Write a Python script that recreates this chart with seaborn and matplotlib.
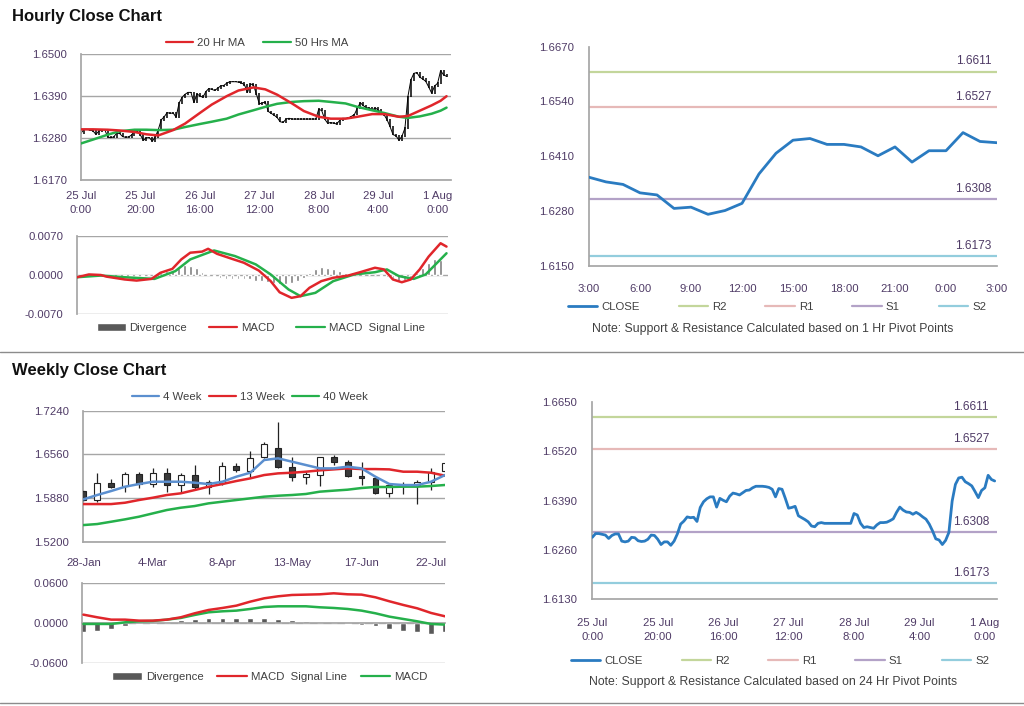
import numpy as np
import pandas as pd
import matplotlib
matplotlib.use("Agg")
import matplotlib.pyplot as plt
import seaborn as sns
from matplotlib.patches import Patch
from matplotlib.lines import Line2D

# ------------------------------------------------------------------ data
hourly_close = [
    1.6293, 1.6303, 1.6303, 1.6301, 1.6299, 1.6290, 1.6298, 1.6302, 1.6302, 1.6283,
    1.6281, 1.6283, 1.6293, 1.6292, 1.6284, 1.6282, 1.6283, 1.6288, 1.6299, 1.6298,
    1.6288, 1.6274, 1.6281, 1.6281, 1.6272, 1.6283, 1.6302, 1.6328, 1.6336, 1.6347,
    1.6345, 1.6346, 1.6335, 1.6372, 1.6387, 1.6395, 1.6400, 1.6400, 1.6373, 1.6396,
    1.6391, 1.6387, 1.6402, 1.6410, 1.6408, 1.6405, 1.6411, 1.6417, 1.6418, 1.6424,
    1.6428, 1.6428, 1.6428, 1.6427, 1.6425, 1.6420, 1.6400, 1.6422, 1.6420, 1.6396,
    1.6370, 1.6372, 1.6375, 1.6350, 1.6345, 1.6340, 1.6334, 1.6323, 1.6321, 1.6330,
    1.6332, 1.6330, 1.6330, 1.6330, 1.6330, 1.6330, 1.6330, 1.6330, 1.6330, 1.6330,
    1.6356, 1.6352, 1.6330, 1.6319, 1.6321, 1.6319, 1.6317, 1.6326, 1.6332, 1.6332,
    1.6333, 1.6337, 1.6342, 1.6359, 1.6373, 1.6365, 1.6360, 1.6359, 1.6354, 1.6359,
    1.6354, 1.6347, 1.6341, 1.6328, 1.6310, 1.6289, 1.6286, 1.6274, 1.6285, 1.6306,
    1.6389, 1.6433, 1.6450, 1.6452, 1.6440, 1.6435, 1.6429, 1.6414, 1.6398, 1.6417,
    1.6424, 1.6457, 1.6446, 1.6442]
hour_ticks = [0, 20, 40, 60, 80, 100, 120]
hour_labels = ["25 Jul\n0:00", "25 Jul\n20:00", "26 Jul\n16:00", "27 Jul\n12:00",
               "28 Jul\n8:00", "29 Jul\n4:00", "1 Aug\n0:00"]

ma_hours = [0, 4, 9, 13, 18, 22, 26, 31, 35, 40, 44, 49, 53, 58, 62, 66, 71, 75, 80,
            84, 89, 93, 98, 102, 107, 110, 114, 118, 121, 123]
ma20 = [1.6303, 1.6303, 1.6302, 1.6300, 1.6296, 1.6290, 1.6287, 1.6301, 1.6318, 1.6346,
        1.6368, 1.6390, 1.6405, 1.6413, 1.6408, 1.6394, 1.6371, 1.6351, 1.6336, 1.6331,
        1.6331, 1.6336, 1.6343, 1.6343, 1.6336, 1.6338, 1.6352, 1.6366, 1.6378, 1.6390]
ma50 = [1.6266, 1.6276, 1.6289, 1.6298, 1.6302, 1.6302, 1.6301, 1.6302, 1.6309, 1.6317,
        1.6323, 1.6331, 1.6342, 1.6353, 1.6362, 1.6370, 1.6375, 1.6377, 1.6378, 1.6375,
        1.6371, 1.6362, 1.6353, 1.6346, 1.6336, 1.6333, 1.6337, 1.6344, 1.6352, 1.6360]

macd_hours = [0, 4, 8, 10, 16, 20, 25, 28, 32, 35, 38, 42, 44, 47, 52, 56, 61, 65, 68,
              72, 75, 78, 82, 86, 91, 95, 100, 103, 106, 109, 112, 115, 118, 122, 124]
macd_h = [-0.0004, 0.0001, 0.0000, -0.0003, -0.0008, -0.0010, -0.0007, 0.0004, 0.0011,
          0.0028, 0.0040, 0.0042, 0.0047, 0.0038, 0.0029, 0.0022, 0.0008, -0.0011, -0.0031,
          -0.0041, -0.0038, -0.0023, -0.0011, -0.0005, -0.0001, 0.0005, 0.0013, 0.0010,
          -0.0008, -0.0013, -0.0008, 0.0010, 0.0033, 0.0057, 0.0051]
signal_hours = [0, 8, 16, 26, 33, 38, 46, 53, 60, 65, 71, 75, 80, 86, 93, 100, 104, 108,
                113, 117, 124]
signal_h = [-0.0004, -0.0001, -0.0004, -0.0007, 0.0007, 0.0028, 0.0044, 0.0034, 0.0019,
            0.0001, -0.0026, -0.0038, -0.0032, -0.0011, 0.0001, 0.0005, 0.0010, -0.0002,
            -0.0007, 0.0001, 0.0039]
div_hours = list(range(0, 124, 2))
div_h = [0.0000, 0.0001, 0.0000, -0.0001, 0.0000, -0.0001, -0.0002, -0.0002, -0.0002,
         -0.0001, -0.0001, -0.0001, 0.0000, 0.0002, 0.0005, 0.0007, 0.0009, 0.0012,
         0.0018, 0.0017, 0.0012, 0.0006, 0.0002, -0.0002, -0.0005, -0.0008, -0.0008,
         -0.0008, -0.0007, -0.0008, -0.0010, -0.0011, -0.0013, -0.0015, -0.0017, -0.0017,
         -0.0015, -0.0011, -0.0005, 0.0003, 0.0011, 0.0014, 0.0013, 0.0010, 0.0007,
         0.0004, 0.0003, 0.0002, 0.0001, 0.0000, 0.0000, -0.0001, -0.0003, -0.0008,
         -0.0011, -0.0009, -0.0004, 0.0004, 0.0012, 0.0022, 0.0028, 0.0027]

last24_close = [1.6360, 1.6349, 1.6343, 1.6323, 1.6318, 1.6286, 1.6289, 1.6272, 1.6281,
                1.6298, 1.6368, 1.6417, 1.6448, 1.6452, 1.6438, 1.6438, 1.6432, 1.6411,
                1.6432, 1.6396, 1.6423, 1.6423, 1.6466, 1.6445, 1.6442]
last24_labels = ["3:00", "6:00", "9:00", "12:00", "15:00", "18:00", "21:00", "0:00", "3:00"]

pivot_names = ["R2", "R1", "S1", "S2"]
pivot_values = [1.6611, 1.6527, 1.6308, 1.6173]

week_labels = ["28-Jan", "4-Mar", "8-Apr", "13-May", "17-Jun", "22-Jul"]
w_open = [1.5989, 1.5849, 1.6119, 1.6067, 1.6254, 1.6098, 1.6274, 1.6082, 1.6238, 1.6056,
          1.6108, 1.6383, 1.6300, 1.6513, 1.6653, 1.6368, 1.6212, 1.6238, 1.6513, 1.6435,
          1.6228, 1.6197, 1.5953, 1.6072, 1.6082, 1.6134, 1.6300]
w_high = [1.6004, 1.6264, 1.6176, 1.6290, 1.6290, 1.6342, 1.6352, 1.6264, 1.6394, 1.6160,
          1.6435, 1.6420, 1.6612, 1.6757, 1.7058, 1.6513, 1.6290, 1.6513, 1.6550, 1.6472,
          1.6446, 1.6212, 1.6093, 1.6134, 1.6160, 1.6342, 1.6420]
w_low = [1.5823, 1.5812, 1.6030, 1.5968, 1.6030, 1.6056, 1.5968, 1.5968, 1.6004, 1.5937,
         1.6082, 1.6290, 1.6186, 1.6498, 1.6342, 1.6145, 1.6093, 1.6067, 1.6394, 1.6212,
         1.6082, 1.5937, 1.5901, 1.5937, 1.5781, 1.6004, 1.6290]
w_close = [1.5849, 1.6119, 1.6046, 1.6254, 1.6098, 1.6274, 1.6082, 1.6238, 1.6046, 1.6134,
           1.6378, 1.6311, 1.6508, 1.6716, 1.6368, 1.6202, 1.6254, 1.6513, 1.6435, 1.6228,
           1.6197, 1.5953, 1.6082, 1.6082, 1.6134, 1.6290, 1.6420]
ma4w = [1.5859, 1.5927, 1.5989, 1.6056, 1.6098, 1.6134, 1.6134, 1.6134, 1.6119, 1.6098,
        1.6134, 1.6212, 1.6274, 1.6472, 1.6498, 1.6446, 1.6394, 1.6342, 1.6342, 1.6368,
        1.6342, 1.6212, 1.6098, 1.6082, 1.6082, 1.6134, 1.6238]
ma13w = [1.5786, 1.5786, 1.5786, 1.5807, 1.5849, 1.5885, 1.5927, 1.5953, 1.6004, 1.6056,
         1.6098, 1.6145, 1.6186, 1.6238, 1.6264, 1.6274, 1.6290, 1.6311, 1.6326, 1.6342,
         1.6331, 1.6331, 1.6326, 1.6290, 1.6290, 1.6274, 1.6228]
ma40w = [1.5459, 1.5475, 1.5511, 1.5548, 1.5589, 1.5641, 1.5693, 1.5729, 1.5755, 1.5797,
         1.5823, 1.5849, 1.5875, 1.5901, 1.5916, 1.5927, 1.5943, 1.5979, 1.5995, 1.6010,
         1.6036, 1.6052, 1.6052, 1.6057, 1.6057, 1.6067, 1.6083]
w_signal = [0.0130, 0.0090, 0.0055, 0.0055, 0.0040, 0.0040, 0.0055, 0.0090, 0.0150, 0.0200,
            0.0230, 0.0265, 0.0325, 0.0375, 0.0405, 0.0425, 0.0430, 0.0435, 0.0450, 0.0435,
            0.0430, 0.0390, 0.0330, 0.0275, 0.0225, 0.0155, 0.0105]
w_macd = [-0.0010, -0.0010, -0.0010, 0.0015, 0.0030, 0.0035, 0.0055, 0.0080, 0.0125, 0.0165,
          0.0180, 0.0190, 0.0215, 0.0245, 0.0255, 0.0255, 0.0255, 0.0240, 0.0230, 0.0215,
          0.0190, 0.0150, 0.0100, 0.0065, 0.0030, -0.0010, -0.0020]
w_div = [-0.0125, -0.0110, -0.0085, -0.0035, -0.0015, -0.0015, 0.0000, 0.0050, 0.0065,
         0.0080, 0.0085, 0.0085, 0.0085, 0.0085, 0.0065, 0.0050, 0.0035, 0.0000, 0.0000,
         -0.0015, -0.0020, -0.0035, -0.0085, -0.0110, -0.0125, -0.0160, -0.0125]

# ------------------------------------------------------------------ style
sns.set_theme(style="white")
plt.rcParams["font.family"] = ["Liberation Sans", "DejaVu Sans"]

RED = "#e0262b"
GREEN = "#25b04b"
BLUE = "#2a7bc1"
BLUE4 = "#5b8fcf"
GRID = "#a6a6a6"
TICK = "#4f3b66"
TXT = "#404040"
PIV_COL = {"R2": "#c3d69b", "R1": "#e6b9b8", "S1": "#b3a2c7", "S2": "#93cddd"}
FS = 8.2

W, H = 1024, 706
fig = plt.figure(figsize=(W / 100, H / 100), dpi=100)
fig.patch.set_facecolor("white")


def rect(l, r, t, b):
    return [l / W, 1 - b / H, (r - l) / W, (b - t) / H]


def base_style(ax, bottom=True, xpad=4, ypad=6):
    for s in ["top", "right"]:
        ax.spines[s].set_visible(False)
    ax.spines["left"].set_color(GRID)
    ax.spines["bottom"].set_color(GRID)
    ax.spines["bottom"].set_visible(bottom)
    ax.tick_params(axis="both", colors=GRID, labelcolor=TICK, labelsize=FS,
                   length=4, width=0.9, direction="out")
    ax.tick_params(axis="x", pad=xpad)
    ax.tick_params(axis="y", pad=ypad)
    ax.set_xlabel("")
    ax.set_ylabel("")


def fmt4(ax):
    ax.yaxis.set_major_formatter(matplotlib.ticker.FuncFormatter(lambda v, p: f"{v:.4f}"))


def hgrid(ax):
    ax.yaxis.grid(True, color=GRID, lw=1.0)
    ax.set_axisbelow(True)


def put_legend(ax, handles, labels, cx, cy, ncol, hl=3.0, cs=1.6):
    ax.legend(handles, labels, loc="center", bbox_to_anchor=(cx / W, 1 - cy / H),
              bbox_transform=fig.transFigure, ncol=ncol, frameon=False, fontsize=FS,
              handlelength=hl, columnspacing=cs, handletextpad=0.35, labelcolor=TXT)


# ------------------------------------------------------------------ titles / separators
fig.text(12 / W, 1 - 16 / H, "Hourly Close Chart", fontsize=12, weight="bold",
         va="center", ha="left", color="#111111")
fig.text(12 / W, 1 - 370 / H, "Weekly Close Chart", fontsize=12, weight="bold",
         va="center", ha="left", color="#111111")
for yy in (352, 703):
    fig.add_artist(Line2D([0, 1], [1 - yy / H, 1 - yy / H], transform=fig.transFigure,
                          color="#8c8c8c", lw=1.0))

hours = np.arange(len(hourly_close))
closes = np.array(hourly_close)
prev = np.r_[closes[0], closes[:-1]]

# ------------------------------------------------------------------ A1 hourly price
a1 = fig.add_axes(rect(81, 451, 54.3, 180))
a1.vlines(hours, np.minimum(prev, closes) - 0.0002, np.maximum(prev, closes) + 0.0002,
          color="black", lw=1.1, zorder=2)
sns.lineplot(x=hours, y=closes, ax=a1, color="black", lw=0.7, zorder=2)
sns.lineplot(x=ma_hours, y=ma50, ax=a1, color=GREEN, lw=1.8, zorder=3)
sns.lineplot(x=ma_hours, y=ma20, ax=a1, color=RED, lw=1.8, zorder=4)
a1.set_xlim(0, 124.5)
a1.set_ylim(1.6170, 1.6500)
a1.set_yticks([1.6170, 1.6280, 1.6390, 1.6500])
fmt4(a1)
a1.set_xticks(hour_ticks)
a1.set_xticklabels(hour_labels, linespacing=1.45)
base_style(a1, xpad=4)
hgrid(a1)
put_legend(a1, [Line2D([], [], color=RED, lw=1.6), Line2D([], [], color=GREEN, lw=1.6)],
           ["20 Hr MA", "50 Hrs MA"], 257, 43, 2, hl=2.4, cs=1.6)

# ------------------------------------------------------------------ A2 hourly MACD
a2 = fig.add_axes(rect(77, 448, 236, 314))
a2.bar(div_hours, div_h, width=0.9, color="#7f7f7f", zorder=2)
sns.lineplot(x=signal_hours, y=signal_h, ax=a2, color=GREEN, lw=1.8, zorder=3)
sns.lineplot(x=macd_hours, y=macd_h, ax=a2, color=RED, lw=1.8, zorder=4)
a2.set_xlim(0, 124.5)
a2.set_ylim(-0.0070, 0.0070)
a2.set_yticks([-0.0070, 0.0, 0.0070])
fmt4(a2)
a2.set_xticks([])
base_style(a2, bottom=False)
hgrid(a2)
put_legend(a2, [Patch(facecolor="#595959"), Line2D([], [], color=RED, lw=1.6),
                Line2D([], [], color=GREEN, lw=1.6)],
           ["Divergence", "MACD", "MACD  Signal Line"], 261, 328, 3, hl=2.5, cs=1.9)

# ------------------------------------------------------------------ pivot panels
def pivot_panel(ax, x, y, ylim, yticks, xticks, xlabels, xlim, lab_dx, xpad):
    for name, val in zip(pivot_names, pivot_values):
        ax.axhline(val, color=PIV_COL[name], lw=1.6, zorder=1)
        ax.annotate(f"{val:.4f}", xy=(1, val), xycoords=("axes fraction", "data"),
                    xytext=(lab_dx, 3), textcoords="offset points", ha="right",
                    va="bottom", fontsize=FS + 0.4, color=TICK)
    sns.lineplot(x=x, y=y, ax=ax, color=BLUE, lw=2.0, zorder=3)
    ax.set_xlim(*xlim)
    ax.set_ylim(*ylim)
    ax.set_yticks(yticks)
    fmt4(ax)
    ax.set_xticks(xticks)
    ax.set_xticklabels(xlabels, linespacing=1.45)
    base_style(ax, xpad=xpad, ypad=7)
    handles = [Line2D([], [], color=BLUE, lw=2.0)] + \
              [Line2D([], [], color=PIV_COL[n], lw=1.6) for n in pivot_names]
    return handles, ["CLOSE"] + pivot_names


a3 = fig.add_axes(rect(589, 997, 46.7, 265.7))
h3, l3 = pivot_panel(a3, np.arange(len(last24_close)), last24_close, (1.6150, 1.6670),
                     [1.6150, 1.6280, 1.6410, 1.6540, 1.6670], list(range(0, 25, 3)),
                     last24_labels, (0, 24), -4, 9)
put_legend(a3, h3, l3, 777, 307, 5, hl=2.6, cs=3.4)
fig.text(773 / W, 1 - 329 / H, "Note: Support & Resistance Calculated based on 1 Hr Pivot Points",
         fontsize=8.8, color=TXT, ha="center", va="center")

a6 = fig.add_axes(rect(592.3, 997.3, 402.3, 599))
h6, l6 = pivot_panel(a6, hours, hourly_close, (1.6130, 1.6650),
                     [1.6130, 1.6260, 1.6390, 1.6520, 1.6650], hour_ticks, hour_labels,
                     (0, 123.8), -6, 10)
put_legend(a6, h6, l6, 780, 661, 5, hl=2.6, cs=3.4)
fig.text(773 / W, 1 - 682 / H, "Note: Support & Resistance Calculated based on 24 Hr Pivot Points",
         fontsize=8.8, color=TXT, ha="center", va="center")

# ------------------------------------------------------------------ A4 weekly candles
a4 = fig.add_axes(rect(83.3, 445, 410.7, 541.7))
weeks = np.arange(len(w_close))
wo, wc = np.array(w_open), np.array(w_close)
a4.vlines(weeks, w_low, w_high, color="#222222", lw=0.9, zorder=2)
bull = wc >= wo
a4.bar(weeks, np.maximum(np.abs(wc - wo), 0.0006), bottom=np.minimum(wo, wc), width=0.42,
       color=np.where(bull, "white", "#3a3a3a"), edgecolor="#222222", lw=0.8, zorder=3)
sns.lineplot(x=weeks, y=ma40w, ax=a4, color=GREEN, lw=1.8, zorder=4)
sns.lineplot(x=weeks, y=ma13w, ax=a4, color=RED, lw=1.8, zorder=5)
sns.lineplot(x=weeks, y=ma4w, ax=a4, color=BLUE4, lw=1.8, zorder=6)
a4.set_xlim(0, 26)
a4.set_ylim(1.5200, 1.7240)
a4.set_yticks([1.5200, 1.5880, 1.6560, 1.7240])
fmt4(a4)
a4.set_xticks(list(range(0, 26, 5)))
a4.set_xticklabels(week_labels)
base_style(a4, xpad=8)
hgrid(a4)
put_legend(a4, [Line2D([], [], color=BLUE4, lw=1.6), Line2D([], [], color=RED, lw=1.6),
                Line2D([], [], color=GREEN, lw=1.6)],
           ["4 Week", "13 Week", "40 Week"], 250, 397, 3, hl=2.4, cs=0.6)

# ------------------------------------------------------------------ A5 weekly MACD
a5 = fig.add_axes(rect(82, 445, 583.3, 663.3))
a5.bar(weeks, w_div, width=0.42, color="#595959", zorder=2)
sns.lineplot(x=weeks, y=w_signal, ax=a5, color=RED, lw=1.8, zorder=4)
sns.lineplot(x=weeks, y=w_macd, ax=a5, color=GREEN, lw=1.8, zorder=3)
a5.set_xlim(-0.1, 26)
a5.set_ylim(-0.0600, 0.0600)
a5.set_yticks([-0.0600, 0.0, 0.0600])
fmt4(a5)
base_style(a5)
a5.spines["bottom"].set_position(("data", 0))
a5.set_xticks(weeks)
a5.set_xticklabels([])
a5.tick_params(axis="x", length=3)
hgrid(a5)
put_legend(a5, [Patch(facecolor="#595959"), Line2D([], [], color=RED, lw=1.6),
                Line2D([], [], color=GREEN, lw=1.6)],
           ["Divergence", "MACD  Signal Line", "MACD"], 270, 677, 3, hl=2.6, cs=1.2)

fig.savefig("out.png", dpi=100, facecolor="white")
